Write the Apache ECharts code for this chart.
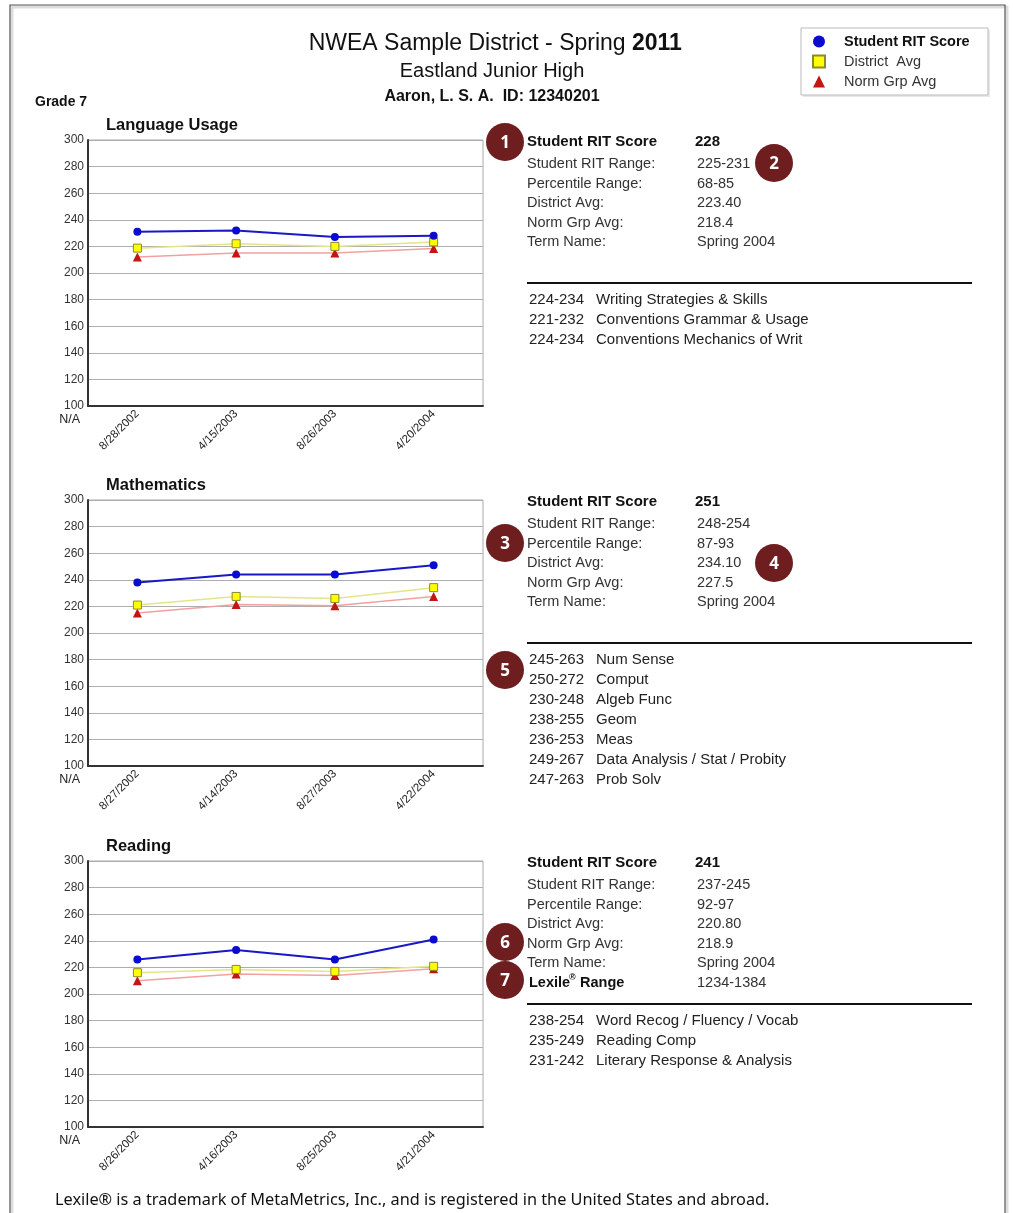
<!DOCTYPE html>
<html>
<head>
<meta charset="utf-8">
<script src="https://cdn.jsdelivr.net/npm/echarts@6/dist/echarts.min.js"></script>
<style>
html,body{margin:0;padding:0;background:#fff;}
#c{width:1013px;height:1213px;}
</style>
</head>
<body>
<div id="c"></div>
<script>
// ---------- data ----------
var subjects = ['Language Usage', 'Mathematics', 'Reading'];
var langDates = ['8/28/2002', '4/15/2003', '8/26/2003', '4/20/2004'];
var mathDates = ['8/27/2002', '4/14/2003', '8/27/2003', '4/22/2004'];
var readDates = ['8/26/2002', '4/16/2003', '8/25/2003', '4/21/2004'];

var langStudent = [231, 232, 227, 228];
var langDistrict = [218.7, 222, 220, 223.4];
var langNorm = [212, 215, 215, 218.4];

var mathStudent = [238, 244, 244, 251];
var mathDistrict = [221, 227.5, 226, 234.1];
var mathNorm = [215, 221.5, 220.5, 227.5];

var readStudent = [226, 233, 226, 241];
var readDistrict = [216, 218.5, 217, 220.8];
var readNorm = [210, 215, 214, 218.9];

var yTicks = [100, 120, 140, 160, 180, 200, 220, 240, 260, 280, 300];
var seriesNames = ['Student RIT Score', 'District  Avg', 'Norm Grp Avg'];

var infoLabels = ['Student RIT Score', 'Student RIT Range:', 'Percentile Range:', 'District Avg:', 'Norm Grp Avg:', 'Term Name:', 'Lexile'];
var langInfo = ['228', '225-231', '68-85', '223.40', '218.4', 'Spring 2004'];
var mathInfo = ['251', '248-254', '87-93', '234.10', '227.5', 'Spring 2004'];
var readInfo = ['241', '237-245', '92-97', '220.80', '218.9', 'Spring 2004', '1234-1384'];

var langGoals = [['224-234', 'Writing Strategies & Skills'], ['221-232', 'Conventions Grammar & Usage'], ['224-234', 'Conventions Mechanics of Writ']];
var mathGoals = [['245-263', 'Num Sense'], ['250-272', 'Comput'], ['230-248', 'Algeb Func'], ['238-255', 'Geom'], ['236-253', 'Meas'], ['249-267', 'Data Analysis / Stat / Probity'], ['247-263', 'Prob Solv']];
var readGoals = [['238-254', 'Word Recog / Fluency / Vocab'], ['235-249', 'Reading Comp'], ['231-242', 'Literary Response & Analysis']];

var badges = [['1', 505, 142], ['2', 774, 163], ['3', 505, 543], ['4', 774, 563], ['5', 505, 670], ['6', 505, 942], ['7', 505, 980]];

(function () {
var FONT = '"Liberation Sans", Arial, sans-serif';
var dates = [langDates, mathDates, readDates];
var studentVals = [langStudent, mathStudent, readStudent];
var districtVals = [langDistrict, mathDistrict, readDistrict];
var normVals = [langNorm, mathNorm, readNorm];
var infos = [langInfo, mathInfo, readInfo];
var goals = [langGoals, mathGoals, readGoals];
var gridTops = [140, 500, 861];
var rowOff = [0, 22, 42, 61, 81, 100, 120];

var grids = [], xAxes = [], yAxes = [], series = [], graphics = [];

function txt(x, y, s, font, fill, align) {
  return {type: 'text', x: x, y: y, style: {text: s, font: font, fill: fill || '#111', align: align || 'left', verticalAlign: 'middle'}};
}

// page frame
graphics.push({type: 'rect', shape: {x: 12, y: 7, width: 995, height: 1240}, style: {fill: 'none', stroke: '#ddd', lineWidth: 3}, z: 0});
graphics.push({type: 'rect', shape: {x: 10, y: 5, width: 995, height: 1240}, style: {fill: 'none', stroke: '#555', lineWidth: 1.2}, z: 1});

// header
graphics.push(txt(632, 44, 'NWEA Sample District - Spring ', '23px ' + FONT, '#111', 'right'));
graphics.push(txt(632, 44, '2011', 'bold 23px ' + FONT, '#111', 'left'));
graphics.push(txt(492, 71, 'Eastland Junior High', '20px ' + FONT, '#111', 'center'));
graphics.push(txt(492, 97, 'Aaron, L. S. A.  ID: 12340201', 'bold 16px ' + FONT, '#111', 'center'));
graphics.push(txt(35, 102, 'Grade 7', 'bold 14px "Liberation Sans Narrow", ' + FONT, '#111', 'left'));

// legend box
graphics.push({type: 'rect', shape: {x: 803, y: 30, width: 187, height: 67}, style: {fill: '#e8e8e8', stroke: 'none'}, z: 1});
graphics.push({type: 'rect', shape: {x: 801, y: 28, width: 187, height: 67}, style: {fill: '#fff', stroke: '#bbb', lineWidth: 1}, z: 2});

// footer
graphics.push(txt(55, 1200, 'Lexile\u00ae is a trademark of MetaMetrics, Inc., and is registered in the United States and abroad.', '16.3px "Noto Sans", sans-serif', '#111', 'left'));

for (var i = 0; i < 3; i++) {
  var gTop = gridTops[i];
  grids.push({left: 88, top: gTop, width: 395, height: 266, show: true, borderColor: '#aaa', borderWidth: 1, backgroundColor: '#fff'});
  xAxes.push({type: 'category', gridIndex: i, data: dates[i], boundaryGap: true,
    axisLine: {show: true, lineStyle: {color: '#333', width: 2}},
    axisTick: {show: false},
    axisLabel: {rotate: 45, interval: 0, margin: 6, fontSize: 11.5, color: '#222', fontFamily: FONT},
    splitLine: {show: false}});
  yAxes.push({type: 'value', gridIndex: i, min: yTicks[0], max: yTicks[yTicks.length - 1], interval: yTicks[1] - yTicks[0],
    axisLine: {show: true, lineStyle: {color: '#333', width: 2}},
    axisTick: {show: false},
    axisLabel: {margin: 4, fontSize: 12, color: '#333', fontFamily: FONT},
    splitLine: {show: true, lineStyle: {color: '#adadad', width: 1}}});

  series.push({name: seriesNames[2], type: 'line', xAxisIndex: i, yAxisIndex: i, data: normVals[i], symbol: 'triangle', symbolSize: 9,
    lineStyle: {color: '#f2a0a0', width: 1.5}, itemStyle: {color: '#c41414'}, z: 3});
  series.push({name: seriesNames[1], type: 'line', xAxisIndex: i, yAxisIndex: i, data: districtVals[i], symbol: 'rect', symbolSize: 8,
    lineStyle: {color: '#e4e48a', width: 1.5}, itemStyle: {color: '#ffff00', borderColor: '#8a8a30', borderWidth: 1}, z: 4});
  series.push({name: seriesNames[0], type: 'line', xAxisIndex: i, yAxisIndex: i, data: studentVals[i], symbol: 'circle', symbolSize: 8,
    lineStyle: {color: '#1818c8', width: 2}, itemStyle: {color: '#0a0ad0'}, z: 5});

  graphics.push(txt(106, gTop - 15, subjects[i], 'bold 16.5px ' + FONT, '#111', 'left'));
  graphics.push(txt(80, gTop + 280, 'N/A', '12.5px ' + FONT, '#222', 'right'));

  var info = infos[i];
  for (var r = 0; r < info.length; r++) {
    var bold = (r === 0);
    var y = gTop + 2 + rowOff[r];
    var f = (bold ? 'bold 15px ' : '14.5px ') + FONT;
    var col = bold ? '#111' : '#333';
    if (r === 6) {
      var bf = 'bold 14.5px ' + FONT;
      graphics.push(txt(529, y, 'Lexile', bf, '#111', 'left'));
      graphics.push(txt(569, y - 5, '\u00ae', 'bold 9px ' + FONT, '#111', 'left'));
      graphics.push(txt(580, y, 'Range', bf, '#111', 'left'));
    } else {
      graphics.push(txt(527, y, infoLabels[r], f, col, 'left'));
    }
    graphics.push(txt(r === 0 ? 695 : 697, y, info[r], f, col, 'left'));
  }
  var lineY = gTop + 143;
  graphics.push({type: 'line', shape: {x1: 527, y1: lineY, x2: 972, y2: lineY}, style: {stroke: '#111', lineWidth: 2}});
  var g = goals[i];
  for (var k = 0; k < g.length; k++) {
    var gy = lineY + 17 + k * 20;
    graphics.push(txt(529, gy, g[k][0], '15px ' + FONT, '#222', 'left'));
    graphics.push(txt(596, gy, g[k][1], '15px ' + FONT, '#222', 'left'));
  }
}

badges.forEach(function (b) {
  graphics.push({type: 'circle', shape: {cx: b[1], cy: b[2], r: 19}, style: {fill: '#6e1e1e'}, z: 10});
  var t = txt(b[1], b[2] + 1, b[0], 'bold 17px "Noto Sans", sans-serif', '#fff', 'center');
  t.z = 11;
  graphics.push(t);
});

var chart = echarts.init(document.getElementById('c'));
chart.setOption({
  backgroundColor: '#fff',
  animation: false,
  grid: grids,
  xAxis: xAxes,
  yAxis: yAxes,
  series: series,
  legend: {
    orient: 'vertical', left: 812, top: 34, itemWidth: 12, itemHeight: 12, itemGap: 5, padding: 0, z: 20,
    selectedMode: false,
    data: [
      {name: seriesNames[0], icon: 'circle', textStyle: {fontWeight: 'bold', color: '#111', fontSize: 14.5, fontFamily: FONT, padding: [0, 0, 0, 14]}},
      {name: seriesNames[1], icon: 'path://M1,1L9,1L9,9L1,9Z', textStyle: {color: '#333', fontSize: 14.5, fontFamily: FONT, padding: [0, 0, 0, 14]}},
      {name: seriesNames[2], icon: 'triangle', textStyle: {color: '#333', fontSize: 14.5, fontFamily: FONT, padding: [0, 0, 0, 14]}}
    ]
  },
  graphic: graphics
});
})();
</script>
</body>
</html>
